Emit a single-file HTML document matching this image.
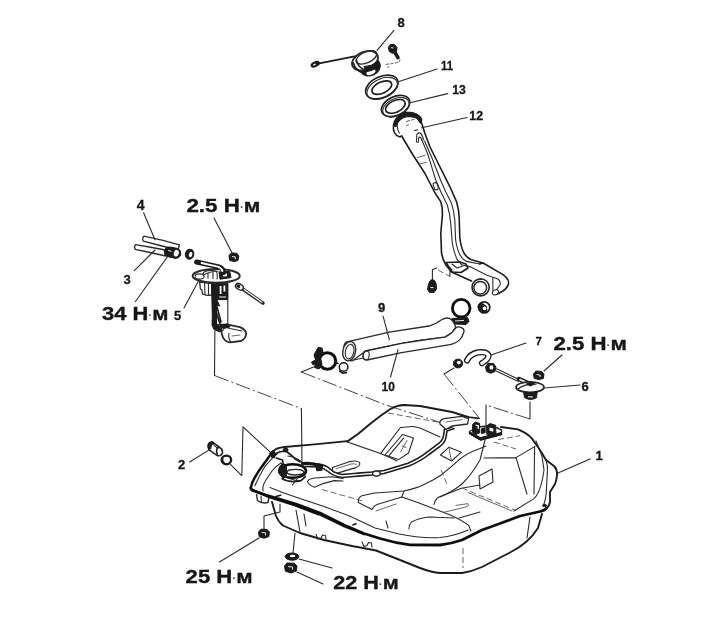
<!DOCTYPE html>
<html lang="ru">
<head>
<meta charset="utf-8">
<title>Топливный бак</title>
<style>
html,body{margin:0;padding:0;background:#fff;}
body{width:725px;height:633px;overflow:hidden;position:relative;}
svg{position:absolute;left:0;top:0;display:block;}
.l{fill:none;stroke:#2a2a2a;stroke-width:1.1;stroke-linecap:round;stroke-linejoin:round;}
.m{fill:none;stroke:#1c1c1c;stroke-width:1.6;stroke-linecap:round;stroke-linejoin:round;}
.t{fill:none;stroke:#111;stroke-width:2.4;stroke-linecap:round;stroke-linejoin:round;}
.h{fill:none;stroke:#555;stroke-width:0.9;stroke-linecap:round;stroke-linejoin:round;}
.w{fill:#fff;stroke:#2a2a2a;stroke-width:1.1;stroke-linejoin:round;}
.k{fill:#1a1a1a;stroke:#1a1a1a;stroke-width:1;stroke-linejoin:round;}
.dd{fill:none;stroke:#3a3a3a;stroke-width:0.95;stroke-dasharray:15 3 2 3;}
.ds{fill:none;stroke:#555;stroke-width:0.9;stroke-dasharray:6 3;}
text{font-family:"Liberation Sans",sans-serif;font-weight:bold;fill:#151515;}
.n{font-size:13px;stroke:#151515;stroke-width:0.3;}
.q{font-size:19px;stroke:#151515;stroke-width:0.35;}
.dot{font-size:10px;fill:#555;stroke:none;}
</style>
</head>
<body>
<svg width="725" height="633" viewBox="0 0 725 633">
<defs><filter id="soft" x="-2%" y="-2%" width="104%" height="104%"><feGaussianBlur stdDeviation="0.45"/></filter></defs>
<rect width="725" height="633" fill="#fff"/>
<g filter="url(#soft)">
<!--CAP8-->
<g id="cap">
<path d="M318,63.6 L354.5,56.4" stroke="#1c1c1c" stroke-width="1.8" stroke-linecap="round" fill="none"/>
<ellipse class="k" cx="315.2" cy="64.2" rx="4.4" ry="2.3" transform="rotate(-25 315.2 64.2)"/>
<ellipse cx="314.4" cy="64.6" rx="1.6" ry="0.7" fill="#fff" transform="rotate(-25 314.4 64.6)"/>
<ellipse class="k" cx="370.4" cy="67.6" rx="10.4" ry="8" transform="rotate(-25 370.4 67.6)"/>
<ellipse cx="371" cy="72.2" rx="4.8" ry="2.4" fill="#fff" transform="rotate(-22 371 72.2)"/>
<ellipse class="w" cx="365" cy="60.6" rx="13.6" ry="8.8" transform="rotate(-24 365 60.6)" style="stroke-width:1.9"/>
<ellipse class="l" cx="366.4" cy="57.4" rx="11" ry="5.4" transform="rotate(-24 366.4 57.4)" style="stroke-width:1.3"/>
<path class="m" d="M353.4,63 Q355.4,70 362,72.6 M356.4,60 Q357.4,66.4 363.4,69.4"/>
<path class="k" d="M364,66.6 Q372,66.6 378.6,60.6 L379.4,65 Q374,71 366,71.6 Z"/>
</g>
<!--BOLT-->
<g id="bolt8">
<path class="k" d="M388.4,47.4 L390.4,44.4 L394.6,44.6 L397,47.6 L396.4,51.6 L392.6,53.4 L389.2,51.4 Z"/>
<path d="M394,51 L398,57.6" stroke="#1a1a1a" stroke-width="3.6" stroke-linecap="round"/>
<path d="M391,47.6 l2.6,0.4" stroke="#fff" stroke-width="0.9"/>
<path class="h" d="M386,64.5 l3,-0.6 M391,63.8 l2,-0.4 M395,63 l2.5,-0.6 M387.5,67 l1.5,0 M399,62 l1,-2"/>
</g>
<!--RING11-->
<g id="ring11">
<ellipse class="m" cx="381.8" cy="87" rx="17.2" ry="10.4" transform="rotate(-25 381.8 87)"/>
<ellipse class="l" cx="382.2" cy="88.4" rx="16.2" ry="9.6" transform="rotate(-25 382.2 88.4)"/>
<ellipse class="m" cx="381.8" cy="87.6" rx="10.6" ry="5.6" transform="rotate(-25 381.8 87.6)"/>
</g>
<!--RING13-->
<g id="ring13">
<ellipse class="m" cx="395.6" cy="106" rx="15" ry="9.4" transform="rotate(-25 395.6 106)"/>
<ellipse class="l" cx="396" cy="107.3" rx="14" ry="8.6" transform="rotate(-25 396 107.3)"/>
<ellipse class="m" cx="395.4" cy="106.4" rx="10.4" ry="5.8" transform="rotate(-25 395.4 106.4)"/>
</g>
<!--NECK12-->
<g id="neck">
<path class="k" d="M393.4,125 Q393.6,120 397.5,116.7 Q402,112.6 406.8,112.1 Q412.6,111.8 416.8,114 Q421.2,116.6 421.9,119 L421.4,123 Q420.4,124 419.4,122 Q418,118.4 414.6,117.4 Q410,116.4 406.6,116.8 Q402.4,117.8 400,120 Q397.4,122.6 396.9,126 Q395,127.6 393.4,125 Z"/>
<path class="m" d="M393.5,125 Q393,130 394.4,132.6 Q396.4,136 399.4,136.8 L401.8,136.2"/>
<path class="l" d="M397.4,126.6 Q397.4,130.4 399.4,133"/>
<path class="h" d="M406.4,121.6 l3.4,-1.2 M411.6,120 l2.6,-0.4 M406.6,125.4 l2,-0.6"/>
<path class="m" d="M401.6,136 L413,155 L425,173.5 L435,193 L440.7,201.6 Q443,208 442.4,215 L440.8,233 L441.5,253 Q442.8,260 445.7,264.7"/>
<path class="m" d="M421.6,123 L424.8,133 L429.8,146.5 L438,163 L449.7,186.3 L456.5,201.6 Q459,210 459.2,218 L459.8,238 Q461,247 463.9,253 Q467,258 471.4,259.7 L483,263"/>
<path class="l" d="M416.4,142 L416.8,134.8 Q418,132.4 420.2,133 Q422.6,135 423.6,140 M418.4,142 L418.6,138 Q419.6,136.4 420.8,137.6 L421.6,140 M416.4,142 L418.4,142.2 M414.6,130.6 l3,-0.8"/>
<path class="l" d="M421.5,139 L428,154.8 L435.6,179.7 L441.5,193.3 L447.3,205 Q450,214 450.7,223 L452.3,243 Q454,253 457.3,259.7 L461.5,264.7"/>
<path class="l" d="M424.5,141 L432,158 L440.5,180 L445.7,191.7 L451.5,203.3 Q454,211 454.8,220 L455.6,240 Q457,249 459.8,254.7 Q462,259 466.4,261.4 L479.7,264"/>
<path class="h" d="M417.3,157.5 L424.8,155.5 M419,164.2 L426.5,162.2"/>
<rect class="w" x="433.6" y="182.6" width="4" height="7.4" rx="1.8" transform="rotate(-20 435.6 186)"/>
</g>
<!--PIPE-LOWER-->
<g id="pipelow">
<path class="m" d="M445.7,264.7 L451.5,272 L471.5,281"/>
<path class="l" d="M461.5,264.7 L469.8,266.6 L486.4,274.9 L498,279 Q501,281.5 500,285 L497,289"/>
<path class="m" d="M479.7,264 L483,263 L503,274.6 Q509.5,279.5 508.6,283.5 Q507.5,288 503,291 L497.5,294"/>
<path class="l" d="M492.8,278 L493,291"/>
<ellipse class="w" cx="495.5" cy="292.3" rx="3.2" ry="2.4" transform="rotate(-25 495.5 292.3)"/>
<path class="m" d="M446,262.5 L460,262 L466,264 L468,268 L461,272.5 L452,272 Z" fill="#fff"/>
<path class="l" d="M452,264 L457,268 L463,266 M449,267 l3,3"/>
<circle class="w" cx="480.6" cy="287.3" r="8.6" style="stroke-width:1.6"/>
<circle class="l" cx="480.2" cy="287.8" r="6.4" style="stroke-width:1.5"/>
<path class="l" d="M473,283 Q476,279 482,279.5"/>
</g>
<!--BOLT-PIPE-->
<g id="boltpipe">
<path class="l" d="M432.4,279.6 L432.4,269.7 L436.6,268"/>
<path class="ds" d="M438,270 L449.8,276.3"/>
<path class="l" d="M449.8,276.3 L450.2,268.5"/>
<path class="k" d="M428.5,284 L430,281 L434.5,280.5 L436,283.5 L436.6,289 L434,292.5 L429.5,292.5 L427.5,289.5 Z"/>
<rect x="430.4" y="279.5" width="3.6" height="4" fill="#1a1a1a"/>
<path d="M430.5,287.5 l3,0.2" stroke="#fff" stroke-width="1" />
</g>
<!--CLAMPS-R-->
<g id="clampsR">
<circle cx="461.2" cy="308.2" r="8.8" fill="none" stroke="#111" stroke-width="2.8"/>
<path class="k" d="M451.8,318.6 L467.6,317.6 L469,321.5 L466,324.5 L455,324 L451.5,321.5 Z"/>
<path d="M455,321 l9,-0.6" stroke="#fff" stroke-width="0.9"/>
<circle cx="484.2" cy="307.4" r="5.6" fill="none" stroke="#1a1a1a" stroke-width="1.7"/>
<path class="k" d="M477.8,307 Q478.5,302.5 482.5,303.5 L486.5,306.5 L487,312 L482,312.6 Z"/>
<circle cx="484.6" cy="308.4" r="1.8" fill="#fff"/>
</g>
<!--HOSES-->
<g id="hoses">
<path class="w" style="stroke-width:1.3" d="M345.9,342.2 L389.3,332.2 L429,326 Q436,324 441.6,319.7 Q446,317.2 449.5,318.4 Q453.5,320.5 455.7,327 L452.4,332.2 L444.9,337.1 L420,340.5 L401.7,343.4 L365.7,351 L352.5,360.8 Q346,361 344,352 Q343,345 345.9,342.2 Z"/>
<ellipse class="w" cx="349.2" cy="351.2" rx="6.3" ry="9.8" transform="rotate(12 349.2 351.2)" style="stroke-width:1.4"/>
<ellipse class="l" cx="349.6" cy="351.6" rx="4.2" ry="7.4" transform="rotate(12 349.6 351.6)"/>
<path class="l" d="M354,360 L364,357.8"/>
<path class="w" style="stroke-width:1.3" d="M365.7,351 L401.7,343.4 L420,340.5 L444.9,337.1 Q450,335 452.4,332.2 Q454.5,329.5 455.7,328 Q458,326 461,327.4 Q464.5,329 464,331.5 Q462.5,337 459.8,339.6 Q456,343.5 449.9,344.6 L420,349.6 L401.7,352.6 L367,360 Q363.2,360 363,355.5 Q363.2,351.5 365.7,351 Z"/>
<ellipse class="l" cx="366.2" cy="355.5" rx="2.9" ry="4.5" transform="rotate(10 366.2 355.5)"/>
</g>
<!--CLAMPS-L-->
<g id="clampsL">
<circle cx="327.4" cy="361" r="8.3" fill="none" stroke="#111" stroke-width="3"/>
<path class="k" d="M314,355 L318,347.5 L322,348 L323,352 L320,356 L322,364 L319,369 L314.5,367.5 L316,361 Z"/>
<path class="k" d="M311.5,362 l4,-2 l1.5,3 l-4,2 Z"/>
<circle cx="343.6" cy="367" r="4.3" fill="none" stroke="#1a1a1a" stroke-width="1.5"/>
<path class="m" d="M338,363.5 l-3.5,-1.2 M339.5,371 l3,2.2 l4,-0.6"/>
</g>
<!--HOSES34-->
<g id="hoses34">
<path class="w" style="stroke-width:1.3" d="M135.5,244.6 Q133.5,247 135.3,249.4 L150,252.5 L166,256 L168,250.5 L152,247.5 Z"/>
<path class="w" style="stroke-width:1.3" d="M143.8,236.2 Q141.8,238.6 143.4,241.2 L160,245.5 L178,250 L179.5,244.8 L162,240.2 Z"/>
<path class="k" d="M164.5,250 Q166,246.5 170,247 L178,248.5 Q181.5,250.5 180.8,254.5 Q179.5,258.5 175,258.3 L167,256.5 Q163.5,254.5 164.5,250 Z"/>
<ellipse cx="176.3" cy="253.2" rx="2.5" ry="3.4" fill="#fff" transform="rotate(15 176.3 253.2)"/>
<path d="M168,250.5 l3.5,0.8" stroke="#fff" stroke-width="0.9"/>
<ellipse class="k" cx="189.6" cy="254.2" rx="4.2" ry="5" transform="rotate(15 189.6 254.2)"/>
<ellipse cx="190.6" cy="254.6" rx="1.7" ry="2.8" fill="#fff" transform="rotate(15 190.6 254.6)"/>
</g>
<!--NUT25a-->
<g id="nut25a">
<path class="k" d="M229,255.5 L231.5,252.8 L237,253.4 L238.8,256 L238,260.5 L234,261.6 L229.6,260.4 Z"/>
<path d="M232,256.5 l3.4,0.4 l-0.2,2.4" stroke="#fff" stroke-width="0.9" fill="none"/>
</g>
<!--PUMP-->
<g id="pump">
<ellipse class="w" cx="216.2" cy="275.9" rx="23.6" ry="6.9" style="stroke-width:1.9"/>
<path class="l" d="M198,279.5 Q205,271.5 218,271.2"/>
<ellipse class="w" cx="199.5" cy="276.5" rx="4.5" ry="2.6"/>
<path class="l" d="M203,274 Q204,270.6 210,270.4 L216,271 Q218,274 217,279 M208,273 l0,5 M213,272.4 l0,6"/>
<path class="k" d="M219,272 L229.6,271 L231,277.6 L220,279.2 Z"/>
<rect x="223" y="273.4" width="4" height="3" fill="#fff"/>
<path d="M196.6,262 L218,266.6 Q223,267.6 223.6,272.6" fill="none" stroke="#1a1a1a" stroke-width="5" stroke-linecap="round"/>
<path d="M201.6,263 L217.6,266.6 Q221.6,267.8 222.4,271" fill="none" stroke="#fff" stroke-width="2" stroke-linecap="round"/>
<path class="w" style="stroke-width:1.3" d="M199.6,282 L200.4,289 L202,290 L202.4,294 L207,295.4 L211.8,295 L211.8,283.6 Z"/>
<path class="l" d="M204.6,283 L205,294.6 M208.4,283.6 L208.6,295"/>
<path class="w" d="M216.4,299.6 L216.4,324.4 L227.8,324.6 L227.8,283.4 L216.4,283.4 Z"/>
<path class="k" d="M211.6,283.6 L216.6,284 L217,300 L219.6,306 L216.6,305 L216.6,325 L212.4,322 Z"/>
<path class="k" d="M217.6,284 L227.6,284 L227.6,299.6 L217.6,299.6 Z"/>
<path d="M220.6,286 l0,8 M224.4,285.6 l0,6" stroke="#fff" stroke-width="1.8" fill="none"/>
<path d="M219,297 l7,0" stroke="#fff" stroke-width="1" fill="none"/>
<path class="m" d="M216.8,306 Q219,314 221,322 M213,300 Q216,312 220,324"/>
<path class="k" d="M212.4,319 L216,324.4 L222,327 L220,332 L214,329.6 L212,325 Z"/>
<path class="w" style="stroke-width:1.8" d="M221.5,326.5 L228,324.6 L240,327.2 Q245.5,329.5 246.2,333.5 Q246,338.5 241,341 L230,342.4 Q224.5,341.5 222.8,337 Q220.5,331 221.5,326.5 Z"/>
<path class="l" d="M222.5,331 Q224,326 230,328.5 L242,331 M229,333.2 Q228,338 230.5,341.8"/>
<path class="h" d="M232,336 l8,-1"/>
<path class="k" d="M220,324.5 l8,-0.6 l2,3 l-8,1.2 Z"/>
</g>
<!--CONNECTOR-->
<g id="conn">
<path d="M242,288.5 L263,303.2" stroke="#222" stroke-width="3.4" stroke-linecap="round"/>
<path d="M244,289.5 L262,302.2" stroke="#fff" stroke-width="1.2" stroke-linecap="round"/>
<ellipse class="w" cx="239.4" cy="286.8" rx="4.2" ry="2.8" transform="rotate(30 239.4 286.8)" style="stroke-width:1.5"/>
<ellipse class="k" cx="238.4" cy="286.2" rx="1.6" ry="1.1" transform="rotate(30 238.4 286.2)"/>
</g>
<!--PUMP-LINE-->
<path class="l" d="M214.9,331 L214.5,375.5"/>
<path class="dd" d="M214.5,375.5 L301.4,408.6"/>
<path class="l" d="M301.4,408.6 L302,467"/>
<!--PART2-->
<g id="part2">
<path class="w" style="stroke-width:1.6" d="M208,446 Q208.4,442 212.4,441.8 L221.6,449 Q223.4,452 221.6,454.6 Q219.4,456.6 216.6,455.2 L208.8,449.6 Z"/>
<path class="k" d="M208,446 Q208.4,442 212.4,441.8 L214,443 Q210.6,444.6 210.6,449 L208.8,449.6 Z"/>
<path class="m" d="M218.4,446.8 Q215.6,449.4 217.2,454.4"/>
<path class="l" d="M213,444.4 L218,448.6"/>
<ellipse cx="226.4" cy="459.9" rx="4.7" ry="4.3" fill="#fff" stroke="#1a1a1a" stroke-width="2.4"/>
<path d="M222.6,458 Q222,461.4 224.4,463.4" fill="none" stroke="#1a1a1a" stroke-width="1.6"/>
<path class="l" d="M230.4,464.4 L241.8,475.6 L243,426.8 L271.6,453.3"/>
</g>
<!--HOSE7-->
<g id="hose7">
<path d="M467,360.4 Q470,354 478,352.4 Q487,351.4 488.6,355.4 Q488.6,359 482,363.2" fill="none" stroke="#1a1a1a" stroke-width="6.2" stroke-linecap="round"/>
<path d="M467,360.4 Q470,354 478,352.4 Q487,351.4 488.6,355.4 Q488.6,359 482,363.2" fill="none" stroke="#fff" stroke-width="3.6" stroke-linecap="round"/>
<ellipse class="k" cx="458" cy="363.5" rx="4.6" ry="4.4"/>
<ellipse cx="458.8" cy="362.6" rx="2" ry="1.8" fill="#fff"/>
<path class="k" d="M485.5,367 L488,363.2 L493.5,363.6 L496,367 L495,371.5 L491,373.2 L486.6,371.6 Z"/>
<ellipse cx="491.4" cy="367.4" rx="1.9" ry="2.2" fill="#fff"/>
<path class="l" d="M496.5,368.8 L519,379.4 M496,371 L518.4,381.6"/>
</g>
<!--NUT25b-->
<g id="nut25b">
<path class="k" d="M533.5,374 L536,371 L541.5,371.4 L544,374 L543.4,378.4 L539,379.6 L534.2,378.4 Z"/>
<path d="M536.6,374.6 l3.6,0.4 l-0.2,2.2" stroke="#fff" stroke-width="0.9" fill="none"/>
</g>
<!--VALVE6-->
<g id="valve6">
<path d="M519,379 L529,383.6" stroke="#1a1a1a" stroke-width="4.4" stroke-linecap="round"/>
<path d="M520,379.6 L527,382.8" stroke="#fff" stroke-width="1.6" stroke-linecap="round"/>
<ellipse class="w" cx="530" cy="387.2" rx="14" ry="5.2" style="stroke-width:1.8"/>
<path class="l" d="M518,389 Q524,383.8 536,384.2"/>
<path class="k" d="M523.5,391.6 L524.5,397.5 Q530,401.2 536.5,397.8 L537.2,391.8 Q530,394.4 523.5,391.6 Z"/>
<path d="M528,396.8 l5,0.2" stroke="#fff" stroke-width="1"/>
<path class="k" d="M526.5,384 l5,-1.6 l3,1.6 l-4,2 Z"/>
</g>
<!--DASHED-R-->
<g id="dashR">
<path class="l" d="M454,368 L444,374"/>
<path class="dd" d="M444,374 L480,419"/>
<path class="l" d="M530,402 L530,419"/>
<path class="dd" d="M530,419 L486,405"/>
<path class="l" d="M486,405 L486,428"/>
</g>
<!--DASHED-L-->
<g id="dashL">
<path class="l" d="M313.6,367 L301.2,372"/>
<path class="dd" d="M301.2,372 L386,405 L442,423"/>
</g>
<!--TANK-->
<g id="tank">
<!-- lower body -->
<path class="m" style="stroke-width:1.9" d="M272,502 L276,516 Q279,523 284,526 L300,533 L324,540 L352,546 L376,550.5 L400,560 L420,568 Q432,572.5 440,573 L462,573 Q472,571.5 482,567 L510,552.5 Q519,548 526,542 Q533,536 538,528 L542,514"/>
<path class="l" d="M530,517 L527,538"/>
<path class="l" d="M296,510 L300,532 M304,514 L306,526"/>
<path class="ds" d="M463,548 L463,568"/>
<path class="l" d="M316,534.5 l2,4.5 l3,-1 l1.5,-3 l3,0.5 l0.5,4"/>
<path class="l" d="M362,542 l2,4.5 l3,-1 l1.5,-3 l3,0.5 l0.5,4"/>
<path class="m" d="M353,525 l3,-1.2"/>
<!-- left bracket + stud -->
<path class="w" style="stroke-width:1.4" d="M256.5,494 L257.5,500.5 Q262,504 268,502.5 L269,497"/>
<path class="l" d="M261,496 L261.5,502.5"/>
<path class="l" d="M280,504 L280,512 L264,516 L264,529"/>
<path class="k" d="M258.5,532 L261,529.2 L267,529.4 L269.4,532 L268.8,536.6 L264,538.2 L259.2,536.8 Z"/>
<path d="M261.6,532.4 l4,0.4 l-0.2,2.6" stroke="#fff" stroke-width="0.9" fill="none"/>
<!-- washers 22 -->
<path class="l" d="M295,533 L293,553"/>
<ellipse class="k" cx="292" cy="556.6" rx="6.8" ry="3.6"/>
<ellipse cx="292.6" cy="556" rx="2.8" ry="1.3" fill="#fff"/>
<path class="k" d="M284.5,566 L287,563 L294,563.2 L297,566 L296.4,571 L291,573 L285.4,571.2 Z"/>
<path d="M288,566.6 l4.6,0.4 l-0.2,2.6" stroke="#fff" stroke-width="0.9" fill="none"/>
<!-- front flange thick -->
<path class="t" style="stroke-width:2.8" d="M250.8,487.8 Q251,490 254,491 L266,495 L296,504 L320,513 L344,525 L364,533.5 L380,538.5 Q395,543 410,544.8 L440,545 Q452,543.5 462,540 L482,530 L500,523.5 L520,516 L538,512 Q545,510.5 546.5,508"/>
<path d="M252,489.6 L268,496.6 L296,505.6 L318,514" fill="none" stroke="#111" stroke-width="2.6" stroke-linecap="round"/>
<path d="M318,514 L344,526.4 L364,534.6" fill="none" stroke="#111" stroke-width="1.6" stroke-linecap="round"/>
<path class="l" d="M270,487.4 L282.5,492.4 L300,498.6 L324,506.5 L349.6,516 L375,528 L399,534 Q420,538.5 440,537.5 Q455,536 468,530"/>
<!-- left edge flange -->
<path class="t" d="M250.8,487.8 Q252,482 254.5,478 L259.3,470.2 L269,456.7 L273.8,450.9"/>
<path class="l" d="M254.8,486 L259,477 L265,466.3 L272.8,457.7 L277,454"/>
<path class="l" d="M263,491 Q262,486 266,480 L272,471 Q276,466 281,463"/>
<!-- rear edge -->
<path class="m" style="stroke-width:1.8" d="M273.8,450.9 Q276,448 284.4,447 L317.2,444.1 L347.2,441.2"/>
<!-- hump outline -->
<path class="m" style="stroke-width:1.9" d="M347.2,441.6 L358,434 L370,424 L381,415.5 L390,409.2 Q397,405.2 404,405 L420,406 L452,412 L468,417"/>
<path class="l" d="M347.6,442 L380.5,453.6 L392,458.5"/>
<path class="ds" d="M388,413 L440,422.5"/>
<!-- recessed panel -->
<path class="l" d="M380.5,453.6 L400.5,427.5 L413,426.5"/>
<path class="l" d="M385,455 L402.5,434.5 L413.5,438 L408.5,453 L398.5,459.6 Z"/>
<path class="l" d="M389,455.6 L403.6,438.2"/>
<path class="h" d="M400.5,452 L407,440.5 M402,446 L406,447.5"/>
<path class="l" d="M392,458.5 L397,461 M413,426.5 L420,428 L440,437"/>
<!-- small square -->
<path class="l" d="M440.5,455 L449,447.2 L461.4,452.2 L451.6,461 Z"/>
<path class="h" d="M449,447.2 L450.4,456 L451.6,461"/>
<!-- fuel pipe to pump -->
<path class="m" d="M305.5,466.5 L318.6,467 Q324,468 328,471.5 Q333,476 342,477.5 L372,475 L384,473.5 L409,466 Q421,461 429,454.5 L441,445.6 Q445.5,442 446.2,436 L447,431 L454,428.6"/>
<path class="m" d="M305.5,463.5 L319,464 Q326,465 330,469 Q335,473.5 342,474.5 L372,472 L384,470.5 L408,463.2 Q419,458.6 427,452.2 L439,443.2 Q443,440 443.6,435 L444.4,429.6 L452,427"/>
<ellipse class="w" cx="376.4" cy="473.6" rx="3.8" ry="2.6" style="stroke-width:1.4"/>
<!-- oblong recess -->
<path class="l" d="M332.5,467.5 L350,461.6 Q356.5,460 359.4,462.4 Q361,465.4 356,467.6 L339,472.6 Q334,473.4 332.5,470.8 Z"/>
<path class="h" d="M336,468.8 L351,464 Q355,463.2 356.4,464.6"/>
<!-- left ribs -->
<path class="l" d="M307.4,481.4 Q309,478.6 315,478 L332,476.8 L343,478.4"/>
<path class="l" d="M307.4,481.4 Q309,485.4 314.6,487.2 Q318,486 323,483.6 L334,480.6 L343,481"/>
<path class="l" d="M281,463 Q286,470 284,475 Q290,480 300,481"/>
<path class="ds" d="M322,489.6 L362,500.8"/>
<!-- pump opening -->
<path d="M303,463.6 Q312,462.6 321.6,466.4" fill="none" stroke="#151515" stroke-width="3.4" stroke-linecap="round"/>
<ellipse cx="292.6" cy="471" rx="13.4" ry="6.8" fill="#fff" stroke="#111" stroke-width="2.6"/>
<ellipse class="l" cx="295.4" cy="472.2" rx="8.4" ry="2.8" style="stroke-width:1.3"/>
<path class="k" d="M279,468 Q280,464.6 284,464 L286.6,466 L286.4,476.6 L283,478.4 Q279.6,475 279,468 Z"/>
<path class="m" d="M282,478.6 Q290,483.4 301,480.6 L305.4,476.6"/>
<path class="k" d="M315.4,463.4 l6,1.4 l0.8,5.4 l-5.4,0.6 Z"/>
<path d="M275.6,453.7 Q280,451 286.2,451.2 Q291,454.6 295,458.7 L300,461.8" fill="none" stroke="#1a1a1a" stroke-width="1.8" stroke-linecap="round"/>
<path class="m" d="M276.2,458 L282.5,460 L283.7,467"/>
<ellipse class="k" cx="285.6" cy="450" rx="2.4" ry="2"/>
<path class="k" d="M269.6,453 l3.6,-2.6 l2.6,3.4 l-1.4,4 l-3,-0.6 Z"/>
<path class="l" d="M288,456 Q296,457 301,461.5 L303,465"/>
<path class="m" d="M276,496.6 l4.6,-1.4"/>
<path class="l" d="M292.4,485 L297,479"/>
<!-- centre front hump -->
<path class="l" d="M358.4,502.4 Q357.6,497.6 362,495.8 L374.5,493 L404,491 Q416,488.6 424,484.6 Q434,480 441.5,474.7 Q451,467 459,459.8 Q468,452.6 480,448.6 L486,446"/>
<path class="l" d="M358.4,502.4 L372,509.4 Q373.6,506 377,504.5 L401.8,497 L419,503 L449,514.4 Q462,520 468.8,525.6 L471,531"/>
<path class="l" d="M401.8,497 L404,491"/>
<path class="l" d="M409,529 Q409,524 411.7,521.9 Q419,518 429,517 L454,518"/>
<path class="l" d="M434,504.5 Q435,499.6 439,497 L461.4,488.3 L480,485"/>
<path class="l" d="M459,518 L480,512 M386,521 L388,528"/>
<path class="h" d="M376,511 L396,504 M443,512.5 L466,507 Q470,505.6 468,503.6 L456,505.4"/>
<path class="ds" d="M441,470 L447,484"/>
<!-- right lobe -->
<path class="m" d="M468,417 L478.4,418.4"/>
<path class="w" style="stroke-width:1.3" d="M440,424 Q439,420 444,418.6 L462,416.4 L468.6,418.6 L467.6,424 L452,426 L446,429.4 Z"/>
<path class="h" d="M446,422 L462,419.6"/>
<path class="w" style="stroke-width:1.4" d="M469.5,431.5 L478,427 L492,425.5 L501.5,430 L501.5,434.5 L480.5,440 L469.5,433.6 Z"/>
<path class="k" d="M469.5,431.8 L480.5,437.6 L501.5,432.4 L501.5,434.6 L480.5,440.2 L469.5,433.8 Z"/>
<path class="k" d="M472.6,424.4 L475.4,422 L479.6,423.4 L479.8,432.8 L476,434.4 L472.6,432.4 Z"/>
<path d="M475.6,425 l2.6,0.8 l0,3.2" stroke="#fff" stroke-width="1.3" fill="none"/>
<path class="k" d="M486.6,426 L490,423.6 L495.6,425.2 L496,434.6 L491,436.4 L486.8,434.6 Z"/>
<path d="M489.4,427.4 l4,1 l0,3.4 l-3.8,-1 Z" fill="#fff"/>
<path class="k" d="M481.6,428.6 l3.6,-1 l0,5 l-3.6,1 Z"/>
<path class="m" style="stroke-width:1.9" d="M501,427 L518,429.4 Q527,433 532,438.6 L540,450 L546,460"/>
<path class="l" d="M485,440 L480,460 Q472,474 462,484 Q452,492 440,497"/>
<path class="l" d="M484,458 L516,457.6 L535,446.4 M516,457.6 L527,494 M534.6,446.6 L534,494"/>
<path class="ds" d="M494,442 L516,449 M498,439.6 L520,435.6"/>
<path class="l" d="M479,476 L492,469 L493,482 L480,489 Z"/>
<path class="ds" d="M462,488 L516,510.5"/>
<path class="l" d="M514,511 L534,498.6 Q541,492 544,470 L542,456 L536,441"/>
<path class="h" d="M468,492.5 L512,511"/>
<!-- right flange -->
<path class="m" style="stroke-width:1.9" d="M546,460 L554,466 Q557.6,470 557,475.4 Q556.6,480 555,484 L550,492 L550,502 Q549.4,506 546.5,508.4"/>
<path class="l" d="M546,460 Q548,466 547.4,471 L546.4,490 Q546,500 543,506"/>
<ellipse class="k" cx="544.6" cy="505.4" rx="1.9" ry="1.2"/>
</g>
<!--PARTS-->
<!--LEADERS-->
<g id="leaders" class="l">
<path d="M394,30.4 L377,50.4"/>
<path d="M399,81.6 L437,69"/>
<path d="M409,103 L447.5,93.6"/>
<path d="M421.7,127.8 L467,117.5"/>
<path d="M143.6,212.8 L155,239.7"/>
<path d="M134.3,270.7 L155,250"/>
<path d="M135.3,301.7 L168.5,255.2"/>
<path d="M214,218 L231.6,252"/>
<path d="M184,308 L198.5,281"/>
<path d="M383.1,316.1 L389.3,339.7"/>
<path d="M390.5,377 L398,349.6"/>
<path d="M491,355 L526,343"/>
<path d="M544,371 L562,355"/>
<path d="M544,388 L580,385"/>
<path d="M189.7,462 L209.6,449.6"/>
<path d="M558,473 L590,459"/>
<path d="M219.5,562 L259,538"/>
<path d="M299,559 L332,568"/>
<path d="M297,572 L323,584"/>
</g>
<!--TEXT-->
<g id="labels">
<text class="n" x="397.5" y="27">8</text>
<text class="n" x="441" y="70.3" textLength="12" lengthAdjust="spacingAndGlyphs">11</text>
<text class="n" x="452.3" y="94.4" textLength="13.6" lengthAdjust="spacingAndGlyphs">13</text>
<text class="n" x="469.3" y="120.3" textLength="13.8" lengthAdjust="spacingAndGlyphs">12</text>
<text class="n" x="136.8" y="209.5" style="font-size:14px">4</text>
<text class="q" x="186.4" y="212.4" textLength="74" lengthAdjust="spacingAndGlyphs">2.5 Н<tspan class="dot" dy="-1">·</tspan><tspan dy="1">м</tspan></text>
<text class="n" x="123.5" y="284">3</text>
<text class="q" x="102" y="320.4" textLength="66.5" lengthAdjust="spacingAndGlyphs">34 Н<tspan class="dot" dy="-1">·</tspan><tspan dy="1">м</tspan></text>
<text class="n" x="174" y="320.2">5</text>
<text class="n" x="378" y="311.5">9</text>
<text class="n" x="381.5" y="390.8" textLength="13.4" lengthAdjust="spacingAndGlyphs">10</text>
<text class="n" x="535.6" y="344.8" style="font-size:11.5px">7</text>
<text class="q" x="553.4" y="349.6" textLength="73.5" lengthAdjust="spacingAndGlyphs">2.5 Н<tspan class="dot" dy="-1">·</tspan><tspan dy="1">м</tspan></text>
<text class="n" x="581.5" y="390.5">6</text>
<text class="n" x="178" y="469">2</text>
<text class="n" x="595.5" y="460">1</text>
<text class="q" x="185.6" y="582.6" textLength="67" lengthAdjust="spacingAndGlyphs">25 Н<tspan class="dot" dy="-1">·</tspan><tspan dy="1">м</tspan></text>
<text class="q" x="333.2" y="589.4" textLength="65.5" lengthAdjust="spacingAndGlyphs">22 Н<tspan class="dot" dy="-1">·</tspan><tspan dy="1">м</tspan></text>
</g>
</g>
</svg>
</body>
</html>
